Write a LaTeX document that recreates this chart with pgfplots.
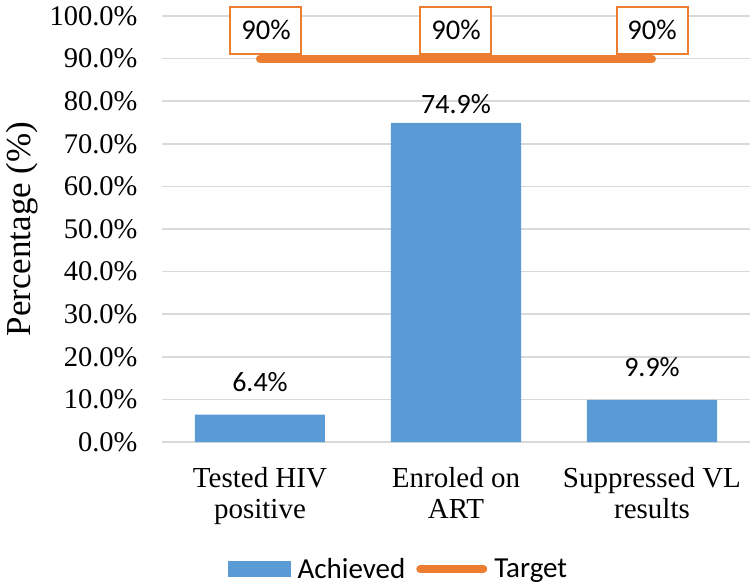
\documentclass[border=0pt]{standalone}
\usepackage{pgfplots}
\usepackage{pgfplotstable}
\pgfplotsset{compat=1.18}
\usetikzlibrary{calc}
\usepackage{fontspec}
\setmainfont{Liberation Serif}
\newfontfamily\calibri{Carlito}

\definecolor{achblue}{HTML}{5B9BD5}
\definecolor{tgtorange}{HTML}{ED7D31}
\definecolor{gridgray}{HTML}{D9D9D9}

% achieved share per step; dy nudges the value label as in the source chart
\pgfplotstableread{
x y dy
0 6.4 13
1 74.9 0
2 9.9 14
}\achieved

\pgfplotstableread{
x y dx
0 90 6
1 90 0
2 90 0
}\target

\begin{document}
\begin{tikzpicture}
\begin{axis}[
    name=ax,
    scale only axis,
    width=588pt, height=426pt,
    xmin=-0.5, xmax=2.5,
    ymin=0, ymax=100,
    ytick={0,10,...,100},
    xtick={0,1,2},
    xticklabels={{Tested HIV\\positive},{Enroled on\\ART},{Suppressed VL\\results}},
    xticklabel style={align=center, font=\fontsize{29}{31}\selectfont, yshift=-22pt},
    yticklabel style={font=\fontsize{28.5}{32}\selectfont, xshift=-21pt},
    yticklabel={\pgfmathprintnumber[fixed,precision=1,fixed zerofill]{\tick}\%},
    /pgf/number format/assume math mode=true,
    major tick length=0pt,
    axis line style={draw=none},
    ymajorgrids,
    grid style={gridgray, line width=1.5pt},
    ylabel={Percentage (\%)},
    every axis y label/.style={at={(rel axis cs:0,0.5)}, xshift=-140pt, rotate=90, anchor=center, font=\fontsize{35}{38}\selectfont},
    clip=false,
    legend columns=-1,
    legend style={draw=none, at={(0.402,-0.298)}, anchor=center, font=\calibri\fontsize{29}{31}\selectfont,
        /tikz/every odd column/.append style={column sep=5pt},
        /tikz/every even column/.append style={column sep=9pt}},
]

\addplot[ybar, bar width=130pt, fill=achblue, draw=none,
    area legend,
    legend image code/.code={\fill[achblue] (0pt,-8pt) rectangle (63pt,8pt);},
    visualization depends on={\thisrow{dy} \as \dy},
    nodes near coords={\pgfmathprintnumber[fixed,precision=1,fixed zerofill]{\pgfplotspointmeta}\%},
    every node near coord/.append style={font=\calibri\fontsize{28}{30}\selectfont, black, anchor=south, yshift=6pt+\dy pt}]
    table[x=x, y=y] {\achieved};
\addlegendentry{Achieved}

\addplot[tgtorange, line width=8pt, line cap=round,
    legend image code/.code={\draw[tgtorange, line width=8pt, line cap=round] (4pt,0pt) -- (67pt,0pt);},
    visualization depends on={\thisrow{dx} \as \dx},
    nodes near coords={90\%},
    every node near coord/.append style={font=\calibri\fontsize{28.5}{30}\selectfont, black,
        draw=tgtorange, line width=2pt, fill=white, minimum width=71pt, minimum height=47pt,
        anchor=south, yshift=4pt, xshift=\dx pt}]
    table[x=x, y=y] {\target};
\addlegendentry{Target}

\end{axis}
\pgfresetboundingbox
\path ($(ax.south west)+(-162pt,-145pt)$) rectangle ($(ax.south west)+(588pt,442pt)$);
\end{tikzpicture}
\end{document}
